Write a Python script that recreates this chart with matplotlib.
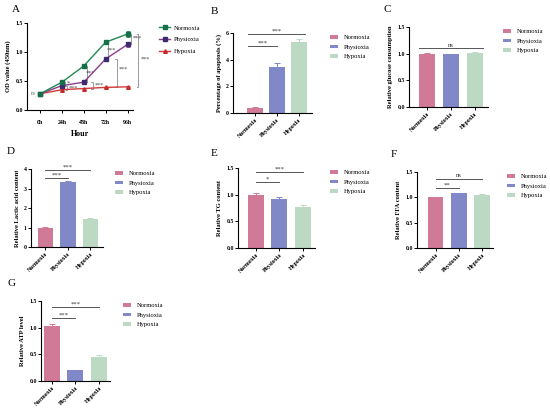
import matplotlib
matplotlib.use("Agg")
import matplotlib.pyplot as plt
from matplotlib.patches import Patch
from matplotlib.lines import Line2D

plt.rcParams['font.family'] = ['Liberation Serif', 'DejaVu Serif']

W, H = 550, 413

groups = ["Normoxia", "Physioxia", "Hypoxia"]
bar_colors = ["#d07a98", "#8088c8", "#bcd9c3"]

# Panel A data
hours = ["0h", "24h", "48h", "72h", "96h"]
od_norm = [0.28, 0.48, 0.76, 1.17, 1.31]
od_norm_err = [0.01, 0.02, 0.02, 0.04, 0.05]
od_phys = [0.28, 0.42, 0.48, 0.88, 1.13]
od_phys_err = [0.01, 0.02, 0.02, 0.02, 0.04]
od_hyp = [0.28, 0.35, 0.37, 0.39, 0.40]
od_hyp_err = [0.01, 0.01, 0.01, 0.01, 0.01]

# Bar panels
apoptosis = [0.40, 3.45, 5.30]
apoptosis_err = [0.05, 0.30, 0.22]
glucose = [1.00, 0.99, 1.01]
glucose_err = [0.005, 0.01, 0.02]
lactic = [1.00, 3.33, 1.42]
lactic_err = [0.02, 0.05, 0.05]
tg = [1.00, 0.92, 0.77]
tg_err = [0.04, 0.03, 0.03]
ffa = [1.00, 1.08, 1.04]
ffa_err = [0.005, 0.005, 0.03]
atp = [1.04, 0.20, 0.45]
atp_err = [0.02, 0.005, 0.03]

line_col = {"Normoxia": "#1f8a52", "Physioxia": "#8a3c8c", "Hypoxia": "#d23a3a"}
mk_col = {"Normoxia": "#15704a", "Physioxia": "#3d2b6e", "Hypoxia": "#c82a2a"}

fig = plt.figure(figsize=(W / 100, H / 100), dpi=100)
fig.patch.set_facecolor("white")

LEG_FS = 4.7
YL_FS = 4.7


def add_ax(left, top, right, bottom):
    return fig.add_axes([left / W, 1 - bottom / H, (right - left) / W, (bottom - top) / H])


def style(ax):
    for s in ["top", "right"]:
        ax.spines[s].set_visible(False)
    for s in ["left", "bottom"]:
        ax.spines[s].set_linewidth(0.8)
    ax.tick_params(length=2, width=0.7, pad=1, labelsize=4.2)
    for lab in ax.get_yticklabels() + ax.get_xticklabels():
        lab.set_fontweight("bold")


def panel_label(x, y, t):
    fig.text(x / W, 1 - y / H, t, fontsize=8, ha="left", va="center")


def bar_legend(x, y):
    handles = [Patch(facecolor=c, edgecolor="none") for c in bar_colors]
    fig.legend(handles, groups, loc="upper left", bbox_to_anchor=(x / W, 1 - y / H),
               frameon=False, fontsize=LEG_FS, handlelength=1.3, handleheight=0.55,
               labelspacing=0.65, handletextpad=0.8, borderpad=0, borderaxespad=0)


def bar_panel(box, vals, errs, ylim, yticks, ytl, ylabel, xlim, width, sig, label_pad=3):
    ax = add_ax(*box)
    xs = list(range(len(vals)))
    ax.bar(xs, vals, width=width, color=bar_colors, edgecolor="none", zorder=2)
    for x, v, e, c in zip(xs, vals, errs, bar_colors):
        ax.errorbar(x, v, yerr=[[0], [e]], fmt="none", ecolor=c, elinewidth=0.7,
                    capsize=2, capthick=0.7, zorder=1)
    ax.set_xlim(*xlim)
    ax.set_ylim(*ylim)
    ax.set_yticks(yticks)
    ax.set_yticklabels(ytl)
    ax.set_xticks(xs)
    ax.set_xticklabels(groups, rotation=45, ha="right", rotation_mode="anchor")
    ax.set_ylabel(ylabel, fontsize=YL_FS, fontweight="bold", labelpad=label_pad)
    style(ax)
    span = ylim[1] - ylim[0]
    for (x0, x1, yv, txt) in sig:
        ax.plot([x0, x1], [yv, yv], color="#555555", lw=0.7, clip_on=False)
        ax.text((x0 + x1) / 2, yv + span * 0.005, txt, ha="center", va="bottom",
                fontsize=4.8, color="#333333", clip_on=False)
    return ax


# Panel A
axA = add_ax(27, 23, 133, 110)
xs = list(range(len(hours)))
for name, vals, errs, mk in [("Hypoxia", od_hyp, od_hyp_err, "^"),
                              ("Physioxia", od_phys, od_phys_err, "s"),
                              ("Normoxia", od_norm, od_norm_err, "s")]:
    axA.errorbar(xs, vals, yerr=errs, color=line_col[name], lw=1.0, marker=mk, ms=2.6,
                 mfc=mk_col[name], mec=mk_col[name], ecolor=line_col[name],
                 elinewidth=0.6, capsize=1.5, capthick=0.6, zorder=3)
axA.set_xlim(-0.6, 4.25)
axA.set_ylim(0, 1.5)
axA.set_yticks([0, 0.5, 1.0, 1.5])
axA.set_yticklabels(["0.0", "0.5", "1.0", "1.5"])
axA.set_xticks(xs)
axA.set_xticklabels(hours)
axA.set_xlabel("Hour", fontsize=5.8, fontweight="bold", labelpad=4)
axA.set_ylabel("OD value (450nm)", fontsize=YL_FS, fontweight="bold", labelpad=3)
style(axA)
axA.tick_params(axis="x", pad=5)

brackets_A = [
    (1.15, 0.48, 0.42, "*", 1.22, 0.455),
    (1.25, 0.42, 0.35, "***", 1.3, 0.37),
    (2.15, 0.76, 0.48, "***", 2.1, 0.64),
    (2.4, 0.48, 0.37, "***", 2.5, 0.43),
    (3.1, 1.17, 0.88, "***", 3.05, 1.04),
    (3.5, 0.88, 0.39, "***", 3.6, 0.7),
    (4.15, 1.31, 1.13, "***", 4.25, 1.24),
    (4.5, 1.31, 0.40, "***", 4.62, 0.88),
]
for xb, yt, yb, txt, tx, ty in brackets_A:
    axA.plot([xb - 0.08, xb, xb, xb - 0.08], [yt, yt, yb, yb], color="#9a9a9a",
             lw=0.7, clip_on=False, zorder=2)
    axA.text(tx, ty, txt, fontsize=4.5, color="#444444", ha="left", va="center", clip_on=False)
axA.text(-0.2, 0.28, "ns", fontsize=4, color="#666666", ha="right", va="center")

handlesA = [Line2D([0], [0], color=line_col[n], marker=m, ms=2.6, mfc=mk_col[n], mec=mk_col[n], lw=1.0)
            for n, m in [("Normoxia", "s"), ("Physioxia", "s"), ("Hypoxia", "^")]]
fig.legend(handlesA, groups, loc="upper left", bbox_to_anchor=(159 / W, 1 - 25 / H),
           frameon=False, fontsize=LEG_FS, handlelength=1.7, labelspacing=0.95,
           handletextpad=0.6, borderpad=0, borderaxespad=0)

# Panel B
bar_panel((233, 33, 312, 113), apoptosis, apoptosis_err, (0, 6), [0, 2, 4, 6],
          ["0", "2", "4", "6"], "Percentage of apoptosis (%)", (-1.0, 2.6), 0.72,
          [(-0.3, 2.3, 5.9, "***"), (-0.3, 1.0, 5.0, "***")])
bar_legend(330, 35)

# Panel C
bar_panel((409, 27, 488, 107), glucose, glucose_err, (0, 1.5), [0, 0.5, 1.0, 1.5],
          ["0.0", "0.5", "1.0", "1.5"], "Relative glucose consumption", (-0.75, 2.55), 0.68,
          [(-0.35, 2.35, 1.1, "ns")])
bar_legend(503, 29)

# Panel D
bar_panel((31, 169, 103, 247), lactic, lactic_err, (0, 4), [0, 1, 2, 3, 4],
          ["0", "1", "2", "3", "4"], "Relative Lactic acid content", (-0.64, 2.56), 0.68,
          [(0.0, 2.0, 3.95, "***"), (0.0, 1.0, 3.55, "***")])
bar_legend(115, 171)

# Panel E
bar_panel((238, 168, 315, 248), tg, tg_err, (0, 1.5), [0, 0.5, 1.0, 1.5],
          ["0.0", "0.5", "1.0", "1.5"], "Relative TG content", (-0.74, 2.5), 0.68,
          [(0.0, 2.0, 1.42, "***"), (0.0, 1.0, 1.24, "*")])
bar_legend(330, 170)

# Panel F
bar_panel((417, 172, 493, 248), ffa, ffa_err, (0, 1.5), [0, 0.5, 1.0, 1.5],
          ["0.0", "0.5", "1.0", "1.5"], "Relative FFA content", (-0.8, 2.47), 0.68,
          [(0.0, 2.0, 1.37, "ns"), (0.0, 1.0, 1.18, "**")])
bar_legend(507, 174)

# Panel G
bar_panel((41, 301, 110, 381), atp, atp_err, (0, 1.5), [0, 0.5, 1.0, 1.5],
          ["0.0", "0.5", "1.0", "1.5"], "Relative ATP level", (-0.45, 2.46), 0.68,
          [(0.0, 2.0, 1.38, "***"), (0.0, 1.0, 1.18, "***")])
bar_legend(123, 303)

panel_label(12, 9, "A")
panel_label(211, 11, "B")
panel_label(383, 9, "C")
panel_label(7, 151, "D")
panel_label(211, 153, "E")
panel_label(391, 155, "F")
panel_label(7, 283, "G")

fig.savefig("out.png", dpi=100, facecolor="white")
